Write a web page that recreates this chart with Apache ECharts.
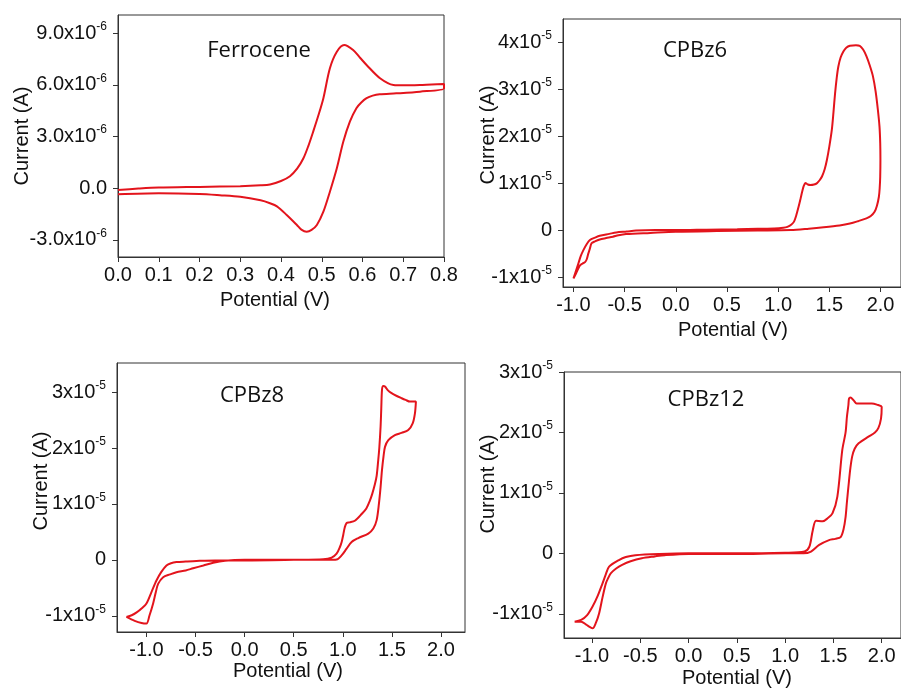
<!DOCTYPE html>
<html>
<head>
<meta charset="utf-8">
<script src="https://cdn.jsdelivr.net/npm/echarts@6/dist/echarts.min.js"></script>
<style>
html,body{margin:0;padding:0;background:#fff;}
#chart{width:901px;height:689px;}
</style>
</head>
<body>
<div id="chart"></div>
<script>
// ---------------- DATA ----------------
// Panel titles
const panelTitles = ['Ferrocene', 'CPBz6', 'CPBz8', 'CPBz12'];

// Ferrocene: potential (V), current in units of 1e-6 A
const ferroPotential = [0.000,0.050,0.100,0.200,0.300,0.350,0.373,0.400,0.422,0.440,
  0.455,0.467,0.479,0.492,0.504,0.520,0.537,0.555,0.577,0.595,
  0.610,0.643,0.676,0.700,0.741,0.770,0.800,
  0.800,0.741,0.683,0.642,0.625,0.610,0.597,0.585,0.569,0.553,
  0.537,0.520,0.504,0.488,0.475,0.463,0.450,0.439,0.414,0.390,
  0.373,0.350,0.300,0.250,0.200,0.100,0.000];
const ferroCurrent = [-0.10,-0.02,0.04,0.08,0.12,0.17,0.22,0.42,0.70,1.15,
  1.74,2.45,3.29,4.25,5.23,6.97,7.93,8.32,8.03,7.55,
  7.16,6.39,6.00,5.98,6.00,6.03,6.05,
  5.80,5.61,5.51,5.46,5.38,5.23,4.98,4.65,3.87,2.71,
  1.16,-0.20,-1.36,-2.13,-2.42,-2.52,-2.40,-2.13,-1.55,-1.05,
  -0.87,-0.70,-0.49,-0.40,-0.33,-0.29,-0.35];

// CPBz6: potential (V), current in units of 1e-5 A
const cpbz6Potential = [-1.000,-0.976,-0.952,-0.928,-0.904,-0.871,-0.839,-0.790,-0.743,-0.650,
  -0.582,-0.480,-0.389,-0.200,0.000,0.300,0.600,0.800,0.960,1.050,
  1.090,1.130,1.155,1.175,1.200,1.220,1.235,1.250,1.267,1.290,
  1.315,1.350,1.380,1.405,1.428,1.455,1.476,1.500,1.524,1.540,
  1.556,1.572,1.588,1.610,1.637,1.665,1.701,1.760,1.797,1.830,
  1.862,1.895,1.926,1.952,1.974,1.990,1.997,1.999,1.997,1.992,
  1.984,1.965,1.942,1.905,1.862,1.780,1.701,1.600,1.444,1.300,
  1.122,0.800,0.400,0.000,-0.250,-0.486,-0.560,-0.614,-0.680,-0.743,
  -0.790,-0.823,-0.840,-0.855,-0.870,-0.887,-0.910,-0.936,-0.955,-0.974,
  -1.000];
const cpbz6Current = [-1.03,-0.87,-0.71,-0.55,-0.43,-0.30,-0.21,-0.16,-0.12,-0.08,
  -0.05,-0.03,-0.01,0.00,0.00,0.01,0.02,0.03,0.035,0.05,
  0.07,0.12,0.18,0.30,0.50,0.68,0.82,0.94,1.00,0.97,
  0.96,0.97,1.00,1.06,1.14,1.30,1.49,1.78,2.13,2.50,
  2.91,3.24,3.48,3.67,3.80,3.88,3.92,3.93,3.92,3.84,
  3.70,3.50,3.27,2.95,2.56,2.20,1.85,1.50,1.14,0.90,
  0.71,0.52,0.39,0.30,0.25,0.19,0.14,0.10,0.06,0.03,
  0.00,-0.01,-0.02,-0.035,-0.06,-0.085,-0.11,-0.14,-0.17,-0.20,
  -0.24,-0.28,-0.40,-0.50,-0.62,-0.68,-0.71,-0.75,-0.83,-0.92,
  -1.03];

// CPBz8: potential (V), current in units of 1e-5 A
const cpbz8Potential = [-1.204,-1.120,-1.050,-1.000,-0.970,-0.932,-0.905,-0.881,-0.830,-0.760,
  -0.694,-0.600,-0.524,-0.420,-0.320,-0.200,0.000,0.400,0.700,0.852,
  0.937,0.988,1.039,1.090,1.158,1.260,1.311,1.345,1.368,1.385,
  1.399,1.415,1.430,1.464,1.531,1.599,1.667,1.712,1.735,1.745,
  1.684,1.640,1.600,1.550,1.497,1.460,1.430,1.413,1.400,1.392,
  1.385,1.372,1.361,1.345,1.327,1.300,1.276,1.240,1.192,1.123,
  1.070,1.039,1.020,1.005,0.990,0.971,0.937,0.886,0.800,0.500,
  0.000,-0.300,-0.490,-0.600,-0.694,-0.750,-0.796,-0.850,-0.898,-0.950,
  -1.000,-1.050,-1.100,-1.150,-1.204];
const cpbz8Current = [-1.02,-1.09,-1.13,-1.14,-1.00,-0.78,-0.58,-0.43,-0.31,-0.26,
  -0.22,-0.19,-0.15,-0.10,-0.05,-0.015,0.00,0.00,0.00,0.00,
  0.006,0.08,0.20,0.32,0.39,0.47,0.56,0.71,1.00,1.30,
  1.60,1.85,2.02,2.14,2.23,2.27,2.32,2.44,2.62,2.83,
  2.83,2.86,2.89,2.93,2.98,3.03,3.10,3.11,3.05,2.70,
  2.38,2.00,1.78,1.50,1.35,1.18,1.06,0.92,0.82,0.70,
  0.67,0.66,0.58,0.45,0.33,0.23,0.11,0.04,0.01,0.00,
  -0.01,-0.01,-0.02,-0.03,-0.04,-0.06,-0.10,-0.22,-0.37,-0.58,
  -0.78,-0.87,-0.94,-0.99,-1.02];

// CPBz12: potential (V), current in units of 1e-5 A
const cpbz12Potential = [-1.180,-1.112,-1.060,-1.020,-0.994,-0.960,-0.926,-0.890,-0.857,-0.830,
  -0.806,-0.750,-0.688,-0.600,-0.484,-0.350,-0.245,0.000,0.500,1.000,
  1.190,1.268,1.353,1.455,1.520,1.575,1.605,1.626,1.640,1.659,
  1.675,1.694,1.720,1.761,1.863,1.930,1.965,1.993,2.000,1.950,
  1.898,1.779,1.740,1.710,1.677,1.662,1.655,1.640,1.626,1.592,
  1.541,1.490,1.440,1.388,1.320,1.286,1.251,1.200,1.000,0.500,
  0.000,-0.300,-0.551,-0.650,-0.721,-0.823,-0.860,-0.892,-0.940,-0.994,
  -1.050,-1.112,-1.180];
const cpbz12Current = [-1.13,-1.13,-1.18,-1.22,-1.24,-1.15,-0.99,-0.72,-0.50,-0.40,
  -0.33,-0.25,-0.19,-0.13,-0.08,-0.05,-0.03,-0.01,-0.01,0.00,
  0.00,0.03,0.14,0.22,0.24,0.27,0.40,0.60,0.85,1.16,
  1.40,1.60,1.73,1.82,1.93,2.00,2.07,2.23,2.42,2.46,
  2.48,2.48,2.48,2.53,2.58,2.56,2.45,2.26,2.00,1.71,
  0.94,0.66,0.58,0.53,0.54,0.38,0.11,0.03,0.01,0.00,
  0.00,-0.01,-0.03,-0.06,-0.11,-0.22,-0.36,-0.50,-0.70,-0.88,
  -1.02,-1.10,-1.13];

// Tick values (label mantissas) and exponents
const ferroXTicks = [0.0,0.1,0.2,0.3,0.4,0.5,0.6,0.7,0.8];
const ferroYTicks = [-3.0,0.0,3.0,6.0,9.0];
const ferroExponent = '-6';
const cpbzXTicks = [-1.0,-0.5,0.0,0.5,1.0,1.5,2.0];
const cpbz6YTicks = [-1,0,1,2,3,4];
const cpbz8YTicks = [-1,0,1,2,3];
const cpbz12YTicks = [-1,0,1,2,3];
const cpbzExponent = '-5';
const xAxisName = 'Potential (V)';
const yAxisName = 'Current (A)';

// ---------------- CHART ----------------
const FONT = 'Liberation Sans, Arial, sans-serif';
const AXIS_COLOR = '#333';
const LINE_COLOR = '#e3141c';

function zip(a, b) { return a.map((v, i) => [v, b[i]]); }

const grids = [
  {left:118, top:15, width:326, height:242},
  {left:563, top:19, width:342, height:268},
  {left:117, top:363, width:348, height:269},
  {left:564, top:372, width:342, height:266}
];
const xRanges = [[0, 0.8], [-1.102, 2.2], [-1.30, 2.245], [-1.29, 2.2]];
const yRanges = [[-3.99, 10.06], [-1.21, 4.49], [-1.29, 3.52], [-1.40, 3.0]];
const xTickSets = [ferroXTicks, cpbzXTicks, cpbzXTicks, cpbzXTicks];
const yTickSets = [ferroYTicks, cpbz6YTicks, cpbz8YTicks, cpbz12YTicks];

function yFormatter(idx) {
  return function (v) {
    if (idx === 0) {
      if (Math.abs(v) < 1e-9) return '{b|0.0}';
      return '{b|' + v.toFixed(1) + 'x10}{s|' + ferroExponent + '}';
    }
    if (Math.abs(v) < 1e-9) return '{b|0}';
    return '{b|' + Math.round(v) + 'x10}{s|' + cpbzExponent + '}';
  };
}
const richStyle = {
  b: {fontSize: 20, fontFamily: FONT, color: '#111'},
  s: {fontSize: 12, fontFamily: FONT, color: '#111', padding: [0, 0, 13, 0]}
};

const xAxes = grids.map((g, i) => ({
  type: 'value', gridIndex: i, min: xRanges[i][0], max: xRanges[i][1],
  axisLine: {show: true, onZero: false, lineStyle: {color: AXIS_COLOR, width: 1}},
  axisTick: {show: true, inside: false, length: 5, customValues: xTickSets[i], lineStyle: {color: AXIS_COLOR}},
  axisLabel: {customValues: xTickSets[i], fontSize: 20, fontFamily: FONT, color: '#111', margin: 8,
    formatter: v => v.toFixed(1)},
  splitLine: {show: false}
}));
const yAxes = grids.map((g, i) => ({
  type: 'value', gridIndex: i, min: yRanges[i][0], max: yRanges[i][1],
  axisLine: {show: true, onZero: false, lineStyle: {color: AXIS_COLOR, width: 1}},
  axisTick: {show: true, inside: false, length: 5, customValues: yTickSets[i], lineStyle: {color: AXIS_COLOR}},
  axisLabel: {customValues: yTickSets[i], margin: 11, formatter: yFormatter(i), rich: richStyle},
  splitLine: {show: false}
}));

const seriesData = [
  zip(ferroPotential, ferroCurrent),
  zip(cpbz6Potential, cpbz6Current),
  zip(cpbz8Potential, cpbz8Current),
  zip(cpbz12Potential, cpbz12Current)
];
const series = seriesData.map((d, i) => ({
  type: 'line', name: panelTitles[i], xAxisIndex: i, yAxisIndex: i, data: d,
  showSymbol: false, symbol: 'none', smooth: 0.3, clip: true,
  lineStyle: {color: LINE_COLOR, width: 2}
}));

const titlePos = [[259, 51], [695, 51], [252, 396], [706, 400]];
const xNamePos = [[275, 300], [733, 330], [288, 671], [737, 678]];
const yNamePos = [[22, 136], [488, 135], [41, 481], [488, 484]];

const graphics = [];
for (let i = 0; i < 4; i++) {
  graphics.push({type: 'text', x: titlePos[i][0], y: titlePos[i][1], z: 100,
    style: {text: panelTitles[i], font: '22px "Open Sans"', fill: '#111',
      textAlign: 'center', align: 'center', textVerticalAlign: 'middle', verticalAlign: 'middle'}});
  graphics.push({type: 'text', x: xNamePos[i][0], y: xNamePos[i][1], z: 100,
    style: {text: xAxisName, font: '20px "Liberation Sans"', fill: '#111',
      textAlign: 'center', align: 'center', textVerticalAlign: 'middle', verticalAlign: 'middle'}});
  graphics.push({type: 'text', x: yNamePos[i][0], y: yNamePos[i][1], rotation: Math.PI / 2, z: 100,
    style: {text: yAxisName, font: '20px "Liberation Sans"', fill: '#111',
      textAlign: 'center', align: 'center', textVerticalAlign: 'middle', verticalAlign: 'middle'}});
}

const chart = echarts.init(document.getElementById('chart'), null, {renderer: 'canvas'});
chart.setOption({
  animation: false,
  backgroundColor: '#fff',
  grid: grids.map(g => Object.assign({show: true, borderColor: AXIS_COLOR, borderWidth: 1, backgroundColor: 'transparent'}, g)),
  xAxis: xAxes,
  yAxis: yAxes,
  series: series,
  graphic: graphics
});
</script>
</body>
</html>
